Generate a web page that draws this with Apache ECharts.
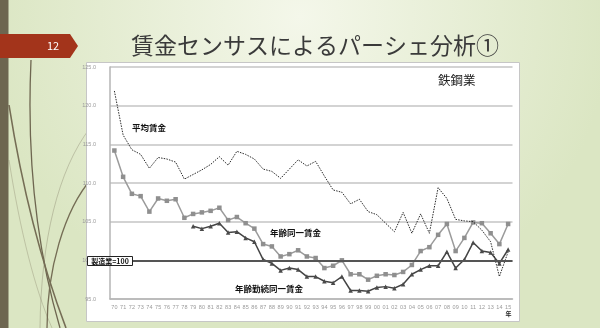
<!DOCTYPE html>
<html>
<head>
<meta charset="utf-8">
<script src="https://cdn.jsdelivr.net/npm/echarts@6/dist/echarts.min.js"></script>
<style>
  html, body { margin: 0; padding: 0; }
  #chart { width: 600px; height: 328px; }
</style>
</head>
<body>
<div id="chart"></div>
<script>
// Years 1970–2015 as two-digit labels
const years = ['70','71','72','73','74','75','76','77','78','79',
  '80','81','82','83','84','85','86','87','88','89',
  '90','91','92','93','94','95','96','97','98','99',
  '00','01','02','03','04','05','06','07','08','09',
  '10','11','12','13','14','15'];

// 平均賃金 (manufacturing = 100)
const avgWage = [121.9,116.2,114.3,113.7,111.9,113.3,113.1,112.7,110.5,111.1,
  111.7,112.4,113.4,112.3,114.1,113.7,113.1,111.8,111.5,110.6,
  111.8,113.0,112.2,112.8,110.9,109.1,108.8,107.3,107.9,106.3,
  105.9,104.8,103.7,106.2,103.5,106.0,103.5,109.4,108.0,105.3,
  105.1,105.0,103.9,102.4,97.9,101.1];

// 年齢同一賃金
const sameAgeWage = [114.2,110.8,108.6,108.3,106.3,108.0,107.7,107.9,105.5,106.0,
  106.2,106.4,106.8,105.2,105.6,104.8,104.1,102.1,101.8,100.5,
  100.8,101.3,100.5,100.3,99.0,99.3,100.0,98.2,98.2,97.5,
  98.0,98.2,98.1,98.5,99.4,101.2,101.7,103.3,104.7,101.2,
  102.9,104.9,104.8,103.5,102.1,104.7];

// 年齢勤続同一賃金 (from 1979)
const sameAgeTenureWage = ['-','-','-','-','-','-','-','-','-',104.4,
  104.1,104.4,104.8,103.6,103.7,102.9,102.4,100.1,99.6,98.7,
  99.0,98.8,97.9,97.9,97.3,97.1,97.9,96.1,96.1,96.0,
  96.5,96.6,96.4,96.9,98.2,98.8,99.3,99.3,101.1,99.0,
  100.1,102.3,101.2,101.0,99.6,101.4];

const yMin = 95, yMax = 125, yStep = 5;
const baseLevel = 100;

const jp = '"Noto Sans CJK JP", "Noto Sans", sans-serif';
const chart = echarts.init(document.getElementById('chart'), null, { renderer: 'canvas' });

const decoCurve = (pts, color, w) => ({
  type: 'bezierCurve', z: -20, silent: true,
  shape: { x1: pts[0], y1: pts[1], cpx1: pts[2], cpy1: pts[3], cpx2: pts[4], cpy2: pts[5], x2: pts[6], y2: pts[7] },
  style: { stroke: color, lineWidth: w, fill: null }
});

chart.setOption({
  backgroundColor: {
    type: 'radial', x: 0.5, y: 0.05, r: 0.95,
    colorStops: [{ offset: 0, color: '#f4f7ea' }, { offset: 1, color: '#dbe6c3' }]
  },
  animation: false,
  grid: { left: 110, right: 87.5, top: 67, bottom: 29 },
  xAxis: {
    type: 'category',
    data: years,
    boundaryGap: true,
    axisLine: { show: true, lineStyle: { color: '#b5b5b5', width: 1.5 } },
    axisTick: { show: false },
    axisLabel: { interval: 0, fontSize: 5.5, color: '#9a9a9a', margin: 5, fontFamily: 'Liberation Sans' }
  },
  yAxis: {
    type: 'value',
    min: yMin, max: yMax, interval: yStep,
    axisLine: { show: true, lineStyle: { color: '#b5b5b5', width: 1.5 } },
    axisTick: { show: false },
    axisLabel: { fontSize: 5.5, color: '#9a9a9a', margin: 14, fontFamily: 'Liberation Sans',
      formatter: v => v.toFixed(1) },
    splitLine: { show: true, lineStyle: { color: '#c4c4c4', width: 1.5 } }
  },
  series: [
    {
      name: '平均賃金', type: 'line', data: avgWage,
      symbol: 'none',
      lineStyle: { color: '#2a2a2a', width: 1, type: [1.5, 1.2] },
      z: 4
    },
    {
      name: '年齢同一賃金', type: 'line', data: sameAgeWage,
      symbol: 'rect', symbolSize: 4.5,
      itemStyle: { color: '#8f8f8f' },
      lineStyle: { color: '#9b9b9b', width: 1.5 },
      z: 3,
      markLine: {
        silent: true, symbol: 'none', label: { show: false },
        lineStyle: { color: '#555', width: 2, type: 'solid' },
        data: [{ yAxis: baseLevel }]
      }
    },
    {
      name: '年齢勤続同一賃金', type: 'line', data: sameAgeTenureWage,
      symbol: 'triangle', symbolSize: 4.5,
      itemStyle: { color: '#4a4a4a' },
      lineStyle: { color: '#444', width: 1.5 },
      z: 3
    }
  ],
  graphic: [
    // slide side strip and decorative strokes
    { type: 'rect', z: -20, silent: true, shape: { x: 0, y: 0, width: 8.5, height: 328 }, style: { fill: '#6d6650' } },
    decoCurve([31, 60, 27, 150, 34, 240, 60, 328], '#6e6650', 1.3),
    decoCurve([9, 105, 24, 200, 44, 270, 66, 328], '#756d55', 1.6),
    decoCurve([92, 178, 64, 210, 47, 270, 47, 328], '#756d55', 1.3),
    decoCurve([90, 128, 58, 170, 41, 240, 40, 328], 'rgba(110,100,80,0.3)', 1),
    decoCurve([9, 160, 20, 230, 35, 290, 52, 328], 'rgba(110,100,80,0.28)', 1),
    // chart frame
    { type: 'rect', z: -10, silent: true, shape: { x: 86.5, y: 62.5, width: 433, height: 259 },
      style: { fill: '#ffffff', stroke: '#c6c6c6', lineWidth: 1 } },
    // page tab
    { type: 'polygon', z: 10, silent: true, shape: { points: [[0, 34], [70, 34], [78, 46], [70, 58], [0, 58]] },
      style: { fill: '#a3341b' } },
    { type: 'text', z: 11, silent: true, style: { x: 53, y: 46, text: '12', fill: '#ffffff', fontSize: 11,
      fontFamily: jp, align: 'center', verticalAlign: 'middle' } },
    // title
    { type: 'text', z: 10, silent: true, style: { x: 315, y: 45, text: '賃金センサスによるパーシェ分析①',
      fill: '#3a3a3a', fontSize: 23, fontFamily: jp, align: 'center', verticalAlign: 'middle' } },
    // annotations
    { type: 'text', z: 50, silent: true, style: { x: 132, y: 128, text: '平均賃金', fill: '#111', fontSize: 8.5,
      fontWeight: 'bold', fontFamily: jp, verticalAlign: 'middle' } },
    { type: 'text', z: 50, silent: true, style: { x: 270, y: 233, text: '年齢同一賃金', fill: '#111', fontSize: 8.5,
      fontWeight: 'bold', fontFamily: jp, verticalAlign: 'middle' } },
    { type: 'text', z: 50, silent: true, style: { x: 235, y: 289, text: '年齢勤続同一賃金', fill: '#111', fontSize: 8.5,
      fontWeight: 'bold', fontFamily: jp, verticalAlign: 'middle' } },
    { type: 'text', z: 50, silent: true, style: { x: 438, y: 80, text: '鉄鋼業', fill: '#222', fontSize: 12.5,
      fontFamily: jp, verticalAlign: 'middle' } },
    { type: 'rect', z: 50, silent: true, shape: { x: 87.5, y: 256.5, width: 45, height: 9 },
      style: { fill: '#ffffff', stroke: '#222', lineWidth: 1 } },
    { type: 'text', z: 51, silent: true, style: { x: 110, y: 261.2, text: '製造業=100', fill: '#111', fontSize: 7,
      fontWeight: 'bold', fontFamily: jp, align: 'center', verticalAlign: 'middle' } },
    { type: 'text', z: 50, silent: true, style: { x: 508.5, y: 314, text: '年', fill: '#222', fontSize: 6,
      fontWeight: 'bold', fontFamily: jp, align: 'center', verticalAlign: 'middle' } }
  ]
});
</script>
</body>
</html>
